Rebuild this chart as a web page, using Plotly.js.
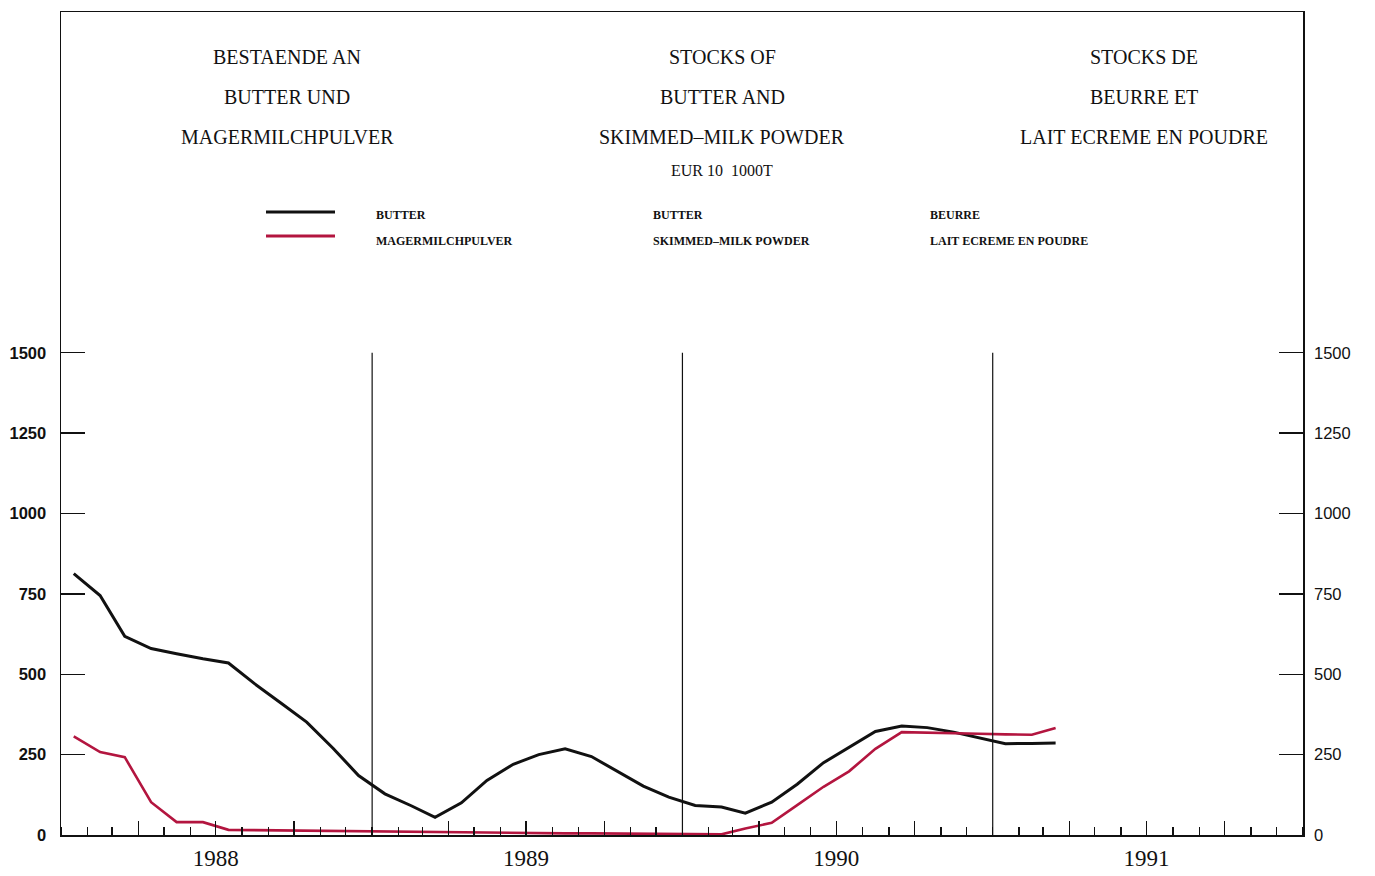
<!DOCTYPE html>
<html>
<head>
<meta charset="utf-8">
<script src="https://cdn.plot.ly/plotly-3.0.1.min.js"></script>
<style>html,body{margin:0;padding:0;background:#fff;}#chart{width:1375px;height:876px;}</style>
</head>
<body>
<div id="chart"></div>
<script>
// ---- data ----
const years = ["1988", "1989", "1990", "1991"];
const yearMid = ["1988-07-01", "1989-07-01", "1990-07-01", "1991-07-01"];
const yearBoundaries = ["1989-01-01", "1990-01-01", "1991-01-01"];
const months = [];
for (let i = 0; i < 39; i++) {
  const y = 1988 + Math.floor(i / 12), m = (i % 12) + 1;
  months.push(y + "-" + String(m).padStart(2, "0") + "-16");
}
const butter = [813,745,618,580,564,548,535,470,410,351,270,185,128,91,55,100,170,220,250,268,244,198,152,118,92,87,68,102,158,225,273,322,339,334,320,303,284,285,286];
const smp    = [307,258,242,102,40,40,16,15,15,14,13,11,10,9,8,7,6,5,5,5,5,4,4,3,2,2,20,38,93,150,198,268,320,319,317,315,313,312,333];
const yTicks = [0, 250, 500, 750, 1000, 1250, 1500];
const quarterTicks = [];
["1988","1989","1990","1991"].forEach(y => ["04","07","10"].forEach(m => quarterTicks.push(y + "-" + m + "-01")));

const titleDE = ["BESTAENDE AN", "BUTTER UND", "MAGERMILCHPULVER"];
const titleEN = ["STOCKS OF", "BUTTER AND", "SKIMMED\u2013MILK POWDER"];
const titleFR = ["STOCKS DE", "BEURRE ET", "LAIT ECREME EN POUDRE"];
const unitText = "EUR 10  1000T";
const legButter = ["BUTTER", "BUTTER", "BEURRE"];
const legSmp = ["MAGERMILCHPULVER", "SKIMMED\u2013MILK POWDER", "LAIT ECREME EN POUDRE"];

// ---- layout helpers (pixel -> paper) ----
const W = 1375, H = 876, L = 61, R = 1303, T = 12, B = 835;
const px = x => (x - L) / (R - L);
const py = y => (B - y) / (B - T);

const serif = "Liberation Serif, Times New Roman, serif";
const sans = "Liberation Sans, Arial, sans-serif";

const annotations = [];
const cols = [287, 722, 1144];
[titleDE, titleEN, titleFR].forEach((t, c) => {
  t.forEach((line, i) => annotations.push({
    xref: "paper", yref: "paper", x: px(cols[c]), y: py(57 + 40 * i),
    text: line, showarrow: false, xanchor: "center", yanchor: "middle",
    font: {family: serif, size: 20, color: "#111"}
  }));
});
annotations.push({xref: "paper", yref: "paper", x: px(722), y: py(170), text: unitText,
  showarrow: false, xanchor: "center", yanchor: "middle", font: {family: serif, size: 16, color: "#111"}});
const legX = [374, 651, 928];
legX.forEach((x, i) => {
  annotations.push({xref: "paper", yref: "paper", x: px(x), y: py(215), text: "<b>" + legButter[i] + "</b>",
    showarrow: false, xanchor: "left", yanchor: "middle", font: {family: serif, size: 12, color: "#111"}});
  annotations.push({xref: "paper", yref: "paper", x: px(x), y: py(241), text: "<b>" + legSmp[i] + "</b>",
    showarrow: false, xanchor: "left", yanchor: "middle", font: {family: serif, size: 12, color: "#111"}});
});

const shapes = [
  {type: "line", xref: "paper", yref: "paper", x0: px(266), x1: px(335), y0: py(212), y1: py(212), line: {color: "#111", width: 3}},
  {type: "line", xref: "paper", yref: "paper", x0: px(266), x1: px(335), y0: py(236), y1: py(236), line: {color: "#b3153f", width: 3}}
];
yearBoundaries.forEach(d => shapes.push({type: "line", xref: "x", yref: "y", x0: d, x1: d, y0: 0, y1: 1500,
  line: {color: "#111", width: 1.2}}));

const traces = [
  {x: months, y: butter, type: "scatter", mode: "lines", name: "BUTTER",
   line: {color: "#111", width: 3}, xaxis: "x", yaxis: "y", hoverinfo: "skip"},
  {x: months, y: smp, type: "scatter", mode: "lines", name: "MAGERMILCHPULVER",
   line: {color: "#b3153f", width: 2.6}, xaxis: "x2", yaxis: "y2", hoverinfo: "skip"}
];

const xRange = ["1988-01-01", "1992-01-01"];
const yRange = [0, 2560];

const layout = {
  width: W, height: H,
  margin: {l: L, r: W - R, t: T, b: H - B, pad: 0},
  paper_bgcolor: "#fff", plot_bgcolor: "#fff",
  showlegend: false,
  xaxis: {
    type: "date", range: xRange, fixedrange: true,
    showgrid: false, zeroline: false,
    showline: true, mirror: true, linecolor: "#111", linewidth: 1.5,
    tickmode: "array", tickvals: yearMid, ticktext: years, ticks: "",
    ticklabelstandoff: 2,
    tickfont: {family: serif, size: 23, color: "#111"},
    minor: {dtick: "M1", tick0: "1988-01-01", ticks: "inside", ticklen: 8, tickwidth: 1.4, tickcolor: "#111", showgrid: false}
  },
  xaxis2: {
    type: "date", range: xRange, overlaying: "x", anchor: "y", side: "bottom", fixedrange: true,
    showgrid: false, zeroline: false, showline: false,
    tickmode: "array", tickvals: quarterTicks, ticks: "inside", ticklen: 14, tickwidth: 1.4, tickcolor: "#111",
    showticklabels: false
  },
  yaxis: {
    range: yRange, fixedrange: true,
    showgrid: false, zeroline: false,
    showline: true, mirror: true, linecolor: "#111", linewidth: 1.5,
    tickmode: "array", tickvals: yTicks, ticks: "inside", ticklen: 24, tickwidth: 1.4, tickcolor: "#111",
    ticklabelstandoff: 10,
    tickfont: {family: sans, size: 16.5, color: "#111", weight: 600}
  },
  yaxis2: {
    range: yRange, overlaying: "y", side: "right", anchor: "x", fixedrange: true,
    showgrid: false, zeroline: false, showline: false,
    tickmode: "array", tickvals: yTicks, ticks: "inside", ticklen: 24, tickwidth: 1.4, tickcolor: "#111",
    ticklabelstandoff: 10,
    tickfont: {family: sans, size: 16.5, color: "#111"}
  },
  annotations: annotations,
  shapes: shapes
};

Plotly.newPlot("chart", traces, layout, {staticPlot: true, displayModeBar: false});
</script>
</body>
</html>
